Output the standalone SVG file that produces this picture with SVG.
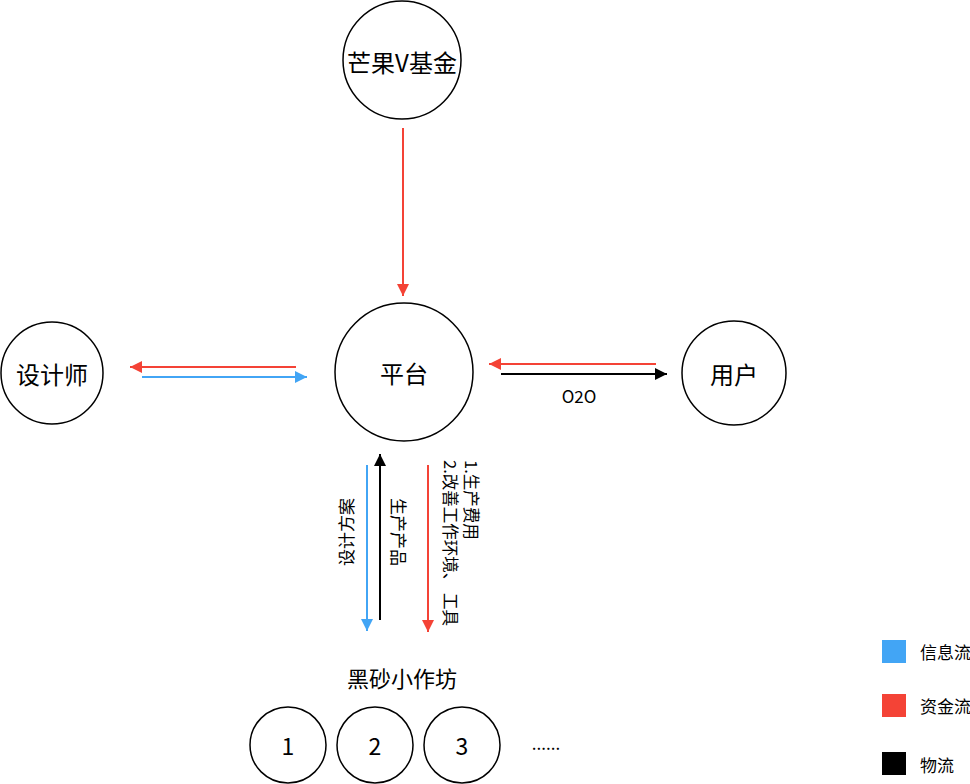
<svg xmlns="http://www.w3.org/2000/svg" width="970" height="784" viewBox="0 0 970 784">
<style>
.node{fill:#fff;stroke:#000;stroke-width:1.5}
.t{font-family:"Noto Sans CJK SC","Liberation Sans",sans-serif;fill:#000;text-anchor:middle;dominant-baseline:central}
.red{stroke:#F44336;stroke-width:2;fill:none}
.blue{stroke:#42A5F5;stroke-width:2;fill:none}
.blk{stroke:#000;stroke-width:2;fill:none}
.lbl{font-family:"Noto Sans CJK SC","Liberation Sans",sans-serif;fill:#000}
</style>
<defs>
<marker id="ar" markerUnits="userSpaceOnUse" markerWidth="14" markerHeight="14" refX="12" refY="6" orient="auto"><path d="M0,0 L12,6 L0,12 Z" fill="#F44336"/></marker>
<marker id="ab" markerUnits="userSpaceOnUse" markerWidth="14" markerHeight="14" refX="12" refY="6" orient="auto"><path d="M0,0 L12,6 L0,12 Z" fill="#42A5F5"/></marker>
<marker id="ak" markerUnits="userSpaceOnUse" markerWidth="14" markerHeight="14" refX="12" refY="6" orient="auto"><path d="M0,0 L12,6 L0,12 Z" fill="#000"/></marker>
</defs>
<rect width="970" height="784" fill="#fff"/>
<g id="fund"><circle class="node" cx="402" cy="60" r="59"/><text class="t" x="402" y="61" font-size="24">芒果V基金</text></g>
<g id="platform"><circle class="node" cx="404" cy="372" r="69"/><text class="t" x="404" y="372" font-size="24">平台</text></g>
<g id="designer"><circle class="node" cx="52" cy="373" r="51"/><text class="t" x="52" y="373" font-size="24">设计师</text></g>
<g id="user"><circle class="node" cx="734" cy="373" r="52"/><text class="t" x="734" y="373" font-size="24">用户</text></g>
<g id="workshop"><text class="t" x="402" y="677" font-size="22">黑砂小作坊</text></g>
<g id="w1"><circle class="node" cx="288" cy="745" r="38"/><text class="t" x="288" y="745" font-size="23">1</text></g>
<g id="w2"><circle class="node" cx="375" cy="745" r="38"/><text class="t" x="375" y="745" font-size="23">2</text></g>
<g id="w3"><circle class="node" cx="462" cy="745" r="38"/><text class="t" x="462" y="745" font-size="23">3</text></g>
<g id="more"><text class="t" x="546" y="742" font-size="17">......</text></g>
<g id="connectors">
<line class="red" x1="403" y1="128" x2="403" y2="296" marker-end="url(#ar)"/>
<line class="red" x1="296" y1="367" x2="130" y2="367" marker-end="url(#ar)"/>
<line class="blue" x1="142" y1="377" x2="307" y2="377" marker-end="url(#ab)"/>
<line class="red" x1="656" y1="364" x2="489" y2="364" marker-end="url(#ar)"/>
<line class="blk" x1="501" y1="374" x2="667" y2="374" marker-end="url(#ak)"/>
<text class="lbl" x="579" y="395" font-size="17" text-anchor="middle" dominant-baseline="central">O2O</text>
<line class="blue" x1="367" y1="465" x2="367" y2="631" marker-end="url(#ab)"/>
<line class="blk" x1="380" y1="620" x2="380" y2="454" marker-end="url(#ak)"/>
<line class="red" x1="428" y1="465" x2="428" y2="632" marker-end="url(#ar)"/>
<text class="lbl" font-size="17" transform="translate(345,532) rotate(-90)" text-anchor="middle" dominant-baseline="central">设计方案</text>
<text class="lbl" font-size="17" transform="translate(399,532) rotate(90)" text-anchor="middle" dominant-baseline="central">生产产品</text>
<text class="lbl" font-size="16.5" transform="translate(472,460) rotate(90)" dominant-baseline="central">1.生产费用</text>
<text class="lbl" font-size="16.5" transform="translate(451,460) rotate(90)" dominant-baseline="central">2.改善工作环境、 工具</text>
</g>
<g id="legend">
<rect x="882" y="640" width="24" height="23" fill="#42A5F5"/>
<text class="lbl" x="920" y="651" font-size="17" dominant-baseline="central">信息流</text>
<rect x="882" y="694" width="24" height="23" fill="#F44336"/>
<text class="lbl" x="920" y="705" font-size="17" dominant-baseline="central">资金流</text>
<rect x="882" y="752" width="24" height="23" fill="#000"/>
<text class="lbl" x="920" y="764" font-size="17" dominant-baseline="central">物流</text>
</g>
</svg>
